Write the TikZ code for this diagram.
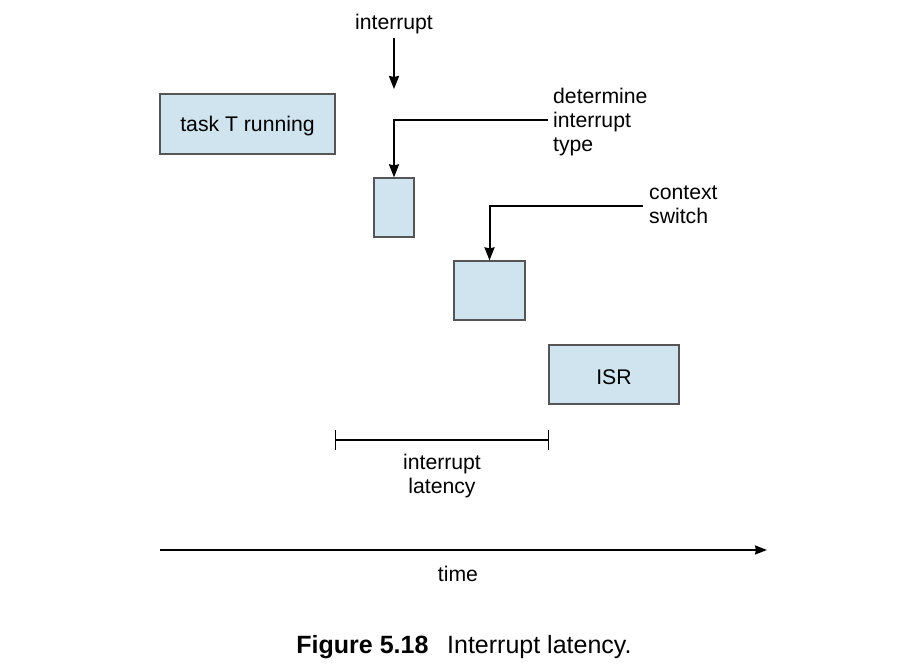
\documentclass[tikz,border=0pt]{standalone}
\usepackage{fontspec}
\setmainfont{Liberation Sans}
\usetikzlibrary{arrows.meta}
\definecolor{boxfill}{HTML}{CFE4EE}
\definecolor{boxline}{HTML}{555555}
\newcommand{\lowtxt}[1]{\raisebox{-2.5pt}[\height][\depth]{#1}}
\begin{document}
\begin{tikzpicture}[x=1pt,y=-1pt,
  blk/.style={draw=boxline,line width=1.3pt,fill=boxfill,rectangle,inner sep=0pt,
    font=\fontsize{21.2}{24}\selectfont},
  lbl/.style={inner sep=0pt,font=\fontsize{21.2}{24}\selectfont},
  conn/.style={line width=2pt,-{Stealth[length=13pt,width=10pt,inset=1pt]}},
  plain/.style={line width=2pt}]
\useasboundingbox (0,0) rectangle (922,666);
\node[blk,minimum width=175pt,minimum height=60pt] (task) at (247.5,124) {\lowtxt{task T running}};
\node[blk,minimum width=40pt,minimum height=59pt] (b1) at (394,207.5) {};
\node[blk,minimum width=71pt,minimum height=59pt] (b2) at (489.5,290.5) {};
\node[blk,minimum width=130pt,minimum height=59pt] (isr) at (614,374.5) {\lowtxt{ISR}};
\node[lbl] (intr) at (394,24) {interrupt};
\coordinate (intend) at (394,89);
\draw[conn] (394,38) -- (intend);
\node[lbl,align=left,anchor=west] (det) at (553,122) {determine\\interrupt\\type};
\draw[conn] ([xshift=-5pt,yshift=2pt]det.west) -| (b1.north);
\node[lbl,align=left,anchor=west] (ctx) at (649,205) {context\\switch};
\draw[conn] ([xshift=-6pt,yshift=-1pt]ctx.west) -| (b2.north);
\coordinate (l1) at (335,440);
\coordinate (l2) at (549,440);
\draw[line width=1.2pt,{Bar[width=20pt]}-{Bar[width=20pt]}] (l1) -- (l2);
\node[lbl,align=center] (lat) at (442,476) {interrupt\\latency};
\coordinate (t1) at (160,550);
\coordinate (t2) at (767,550);
\draw[line width=2pt,-{Stealth[length=12pt,width=9pt,inset=1pt]}] (t1) -- (t2);
\node[lbl] (time) at (458,574) {time};
\node[inner sep=0pt,font=\fontsize{25}{29}\selectfont] (cap) at (464,647) {\textbf{Figure 5.18}\hspace{0.75em}Interrupt latency.};
\end{tikzpicture}
\end{document}
